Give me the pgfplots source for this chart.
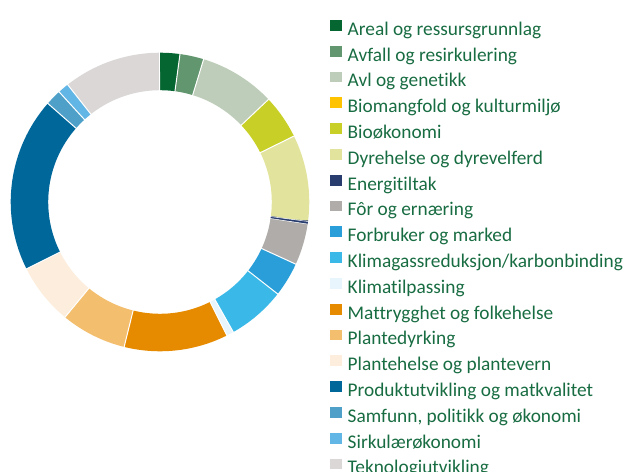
\documentclass[border=0pt]{standalone}
\usepackage{fontspec}
\setmainfont{Carlito}[Ligatures={NoCommon}]
\usepackage{pgfplots}
\pgfplotsset{compat=1.18}
\usepgfplotslibrary{polar}

\definecolor{areal}{RGB}{6,102,50}
\definecolor{avfall}{RGB}{98,150,110}
\definecolor{avl}{RGB}{190,205,185}
\definecolor{biomang}{RGB}{255,195,0}
\definecolor{biook}{RGB}{200,208,40}
\definecolor{dyre}{RGB}{226,228,158}
\definecolor{energi}{RGB}{40,60,110}
\definecolor{forern}{RGB}{175,172,170}
\definecolor{forbruker}{RGB}{42,158,216}
\definecolor{klimagass}{RGB}{58,185,232}
\definecolor{klimatil}{RGB}{232,245,252}
\definecolor{mattr}{RGB}{230,138,0}
\definecolor{plantedyrk}{RGB}{243,190,110}
\definecolor{plantehelse}{RGB}{252,237,220}
\definecolor{produkt}{RGB}{0,103,155}
\definecolor{samfunn}{RGB}{78,160,200}
\definecolor{sirk}{RGB}{98,182,230}
\definecolor{tekno}{RGB}{218,215,214}
\definecolor{legendgreen}{RGB}{24,108,66}

% ring segments: polar angle ranges (degrees, counter-clockwise from east)
\pgfplotsset{
  seg/.style={line width=37.5bp, samples=60, mark=none, line cap=butt},
  sep/.style={white, line width=1bp, forget plot, mark=none},
}

\begin{document}
\begin{tikzpicture}[x=1bp,y=1bp]
\begin{polaraxis}[
  at={(0,0)}, anchor=center,
  width=298bp, height=298bp, scale only axis,
  ymin=0, ymax=1, hide axis, clip=false,
  legend cell align=left,
  legend image code/.code={\fill[#1, draw=none] (0bp,0bp) rectangle (11.7bp,10.7bp);},
  legend style={at={(axis description cs:1.0705,1.1106)}, anchor=north west,
    draw=none, fill=none, inner sep=0pt, outer sep=0pt,
    font=\fontsize{19.4}{22}\selectfont,
    nodes={inner sep=0pt, text height=13bp, text depth=4bp, text=legendgreen},
    row sep=6.6bp, column sep=6bp},
]
\addplot[seg, color=areal, domain=82.3:90] {0.876};
\addplot[seg, color=avfall, domain=73:82.3] {0.876};
\addplot[seg, color=avl, domain=43.4:73] {0.876};
\addlegendimage{color=biomang}
\addplot[seg, color=biook, domain=26.2:43.4] {0.876};
\addplot[seg, color=dyre, domain=-7.5:26.2] {0.876};
\addplot[seg, color=energi, domain=-8.5:-7.5] {0.876};
\addplot[seg, color=forern, domain=-24.6:-8.5] {0.876};
\addplot[seg, color=forbruker, domain=-38:-24.6] {0.876};
\addplot[seg, color=klimagass, domain=-60.6:-38] {0.876};
\addplot[seg, color=klimatil, domain=-63.4:-60.6] {0.876};
\addplot[seg, color=mattr, domain=-103.9:-63.4] {0.876};
\addplot[seg, color=plantedyrk, domain=-129.5:-103.9] {0.876};
\addplot[seg, color=plantehelse, domain=-153.4:-129.5] {0.876};
\addplot[seg, color=produkt, domain=-221.3:-153.4] {0.876};
\addplot[seg, color=samfunn, domain=-227.5:-221.3] {0.876};
\addplot[seg, color=sirk, domain=-231.8:-227.5] {0.876};
\addplot[seg, color=tekno, domain=-270:-231.8] {0.876};
% white separators at segment boundaries
\addplot[sep] coordinates {(90,0.74) (90,1.01)};
\addplot[sep] coordinates {(82.3,0.74) (82.3,1.01)};
\addplot[sep] coordinates {(73,0.74) (73,1.01)};
\addplot[sep] coordinates {(43.4,0.74) (43.4,1.01)};
\addplot[sep] coordinates {(26.2,0.74) (26.2,1.01)};
\addplot[sep, line width=0.5bp] coordinates {(-7.5,0.74) (-7.5,1.01)};
\addplot[sep, line width=0.5bp] coordinates {(-8.5,0.74) (-8.5,1.01)};
\addplot[sep] coordinates {(-24.6,0.74) (-24.6,1.01)};
\addplot[sep] coordinates {(-38,0.74) (-38,1.01)};
\addplot[sep] coordinates {(-60.6,0.74) (-60.6,1.01)};
\addplot[sep] coordinates {(-63.4,0.74) (-63.4,1.01)};
\addplot[sep] coordinates {(-103.9,0.74) (-103.9,1.01)};
\addplot[sep] coordinates {(-129.5,0.74) (-129.5,1.01)};
\addplot[sep] coordinates {(-153.4,0.74) (-153.4,1.01)};
\addplot[sep] coordinates {(-221.3,0.74) (-221.3,1.01)};
\addplot[sep] coordinates {(-227.5,0.74) (-227.5,1.01)};
\addplot[sep] coordinates {(-231.8,0.74) (-231.8,1.01)};
\legend{Areal og ressursgrunnlag, Avfall og resirkulering, Avl og genetikk,
  Biomangfold og kulturmiljø, Bioøkonomi, Dyrehelse og dyrevelferd, Energitiltak,
  Fôr og ernæring, Forbruker og marked, Klimagassreduksjon/karbonbinding,
  Klimatilpassing, Mattrygghet og folkehelse, Plantedyrking,
  Plantehelse og plantevern, Produktutvikling og matkvalitet,
  {Samfunn, politikk og økonomi}, Sirkulærøkonomi, Teknologiutvikling}
\end{polaraxis}
\pgfresetboundingbox
\path[use as bounding box] (-160,-270) rectangle (470,202);
\end{tikzpicture}
\end{document}
